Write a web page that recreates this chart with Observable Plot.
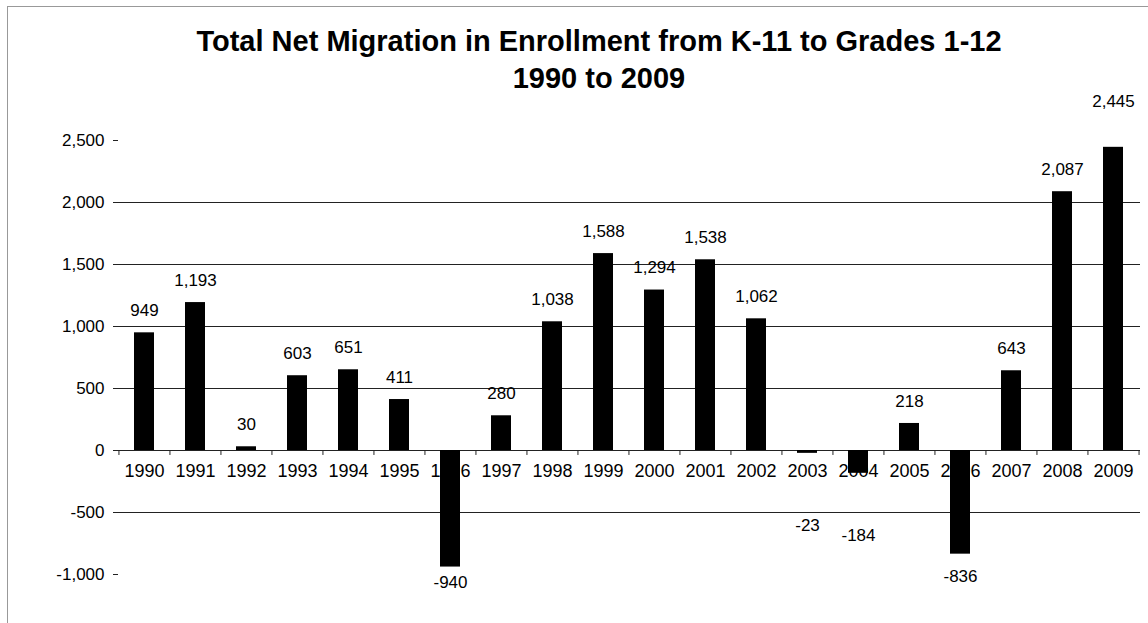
<!DOCTYPE html>
<html>
<head>
<meta charset="utf-8">
<script src="https://cdn.jsdelivr.net/npm/d3@7"></script>
<script src="https://cdn.jsdelivr.net/npm/@observablehq/plot@0.6"></script>
<style>
  html, body { margin: 0; padding: 0; background: #fff; }
  #wrap { position: relative; width: 1148px; height: 623px; overflow: hidden; font-family: "Liberation Sans", Arial, sans-serif; }
  #frame { position: absolute; left: 7px; top: 6px; width: 1160px; height: 700px; border-left: 1px solid #999; border-top: 1px solid #999; }
  #title { position: absolute; left: 0; width: 1198px; top: 23px; text-align: center; font-weight: bold; font-size: 29px; line-height: 37px; color: #000; }
  #chart { position: absolute; left: 0; top: 80px; }
</style>
</head>
<body>
<div id="wrap">
  <div id="frame"></div>
  <div id="title">Total Net Migration in Enrollment from K-11 to Grades 1-12<br>1990 to 2009</div>
  <div id="chart"></div>
</div>
<script>
const years = ["1990","1991","1992","1993","1994","1995","1996","1997","1998","1999",
               "2000","2001","2002","2003","2004","2005","2006","2007","2008","2009"];
const values = [949, 1193, 30, 603, 651, 411, -940, 280, 1038, 1588,
                1294, 1538, 1062, -23, -184, 218, -836, 643, 2087, 2445];
const yTicks = [-1000, -500, 0, 500, 1000, 1500, 2000, 2500];
const gridValues = [-500, 500, 1000, 1500, 2000];

const data = years.map((year, i) => ({year, value: values[i]}));
const fmt = v => d3.format(",")(v).replace("\u2212", "-");

const W = 1148, ML = 118, MR = 8;
const halfStep = (W - ML - MR) / years.length / 2;
const font = "Liberation Sans, Arial, sans-serif";

const chart = Plot.plot({
  width: W,
  height: 543,
  marginTop: 60,
  marginBottom: 49,
  marginLeft: ML,
  marginRight: MR,
  style: {fontFamily: font, fontSize: "17px", color: "#000", background: "transparent", overflow: "visible"},
  x: {type: "band", domain: years, paddingInner: 0.6, paddingOuter: 0.3, axis: null},
  y: {domain: [-1000, 2500], axis: null},
  marks: [
    Plot.ruleY(gridValues, {stroke: "#222", strokeWidth: 1, insetLeft: -5}),
    Plot.ruleY([0], {stroke: "#222", strokeWidth: 1.2, insetLeft: -5}),
    Plot.ruleX(years, {x: d => d, y1: () => 0, y2: () => -40, dx: -halfStep, stroke: "#222"}),
    Plot.ruleX(years.slice(-1), {x: d => d, y1: () => 0, y2: () => -40, dx: halfStep, stroke: "#222"}),
    Plot.axisY({ticks: yTicks, tickFormat: fmt, tickSize: 5, tickPadding: 9, fontSize: 17, label: null, stroke: "#222"}),
    Plot.text(data, {x: "year", y: () => 0, text: "year", dy: 21, fontSize: 18, fill: "#000"}),
    Plot.barY(data, {x: "year", y: "value", fill: "#000"}),
    Plot.text(data.filter(d => d.value >= 0 && d.value < 2400), {x: "year", y: "value", text: d => fmt(d.value), dy: -22, fontSize: 17, fill: "#000"}),
    Plot.text(data.filter(d => d.value >= 2400), {x: "year", y: "value", text: d => fmt(d.value), dy: -46, fontSize: 17, fill: "#000"}),
    Plot.text(data.filter(d => d.value < 0), {x: "year", y: d => d.value / 2, text: d => fmt(d.value), dy: 74, fontSize: 17, fill: "#000"})
  ]
});
document.getElementById("chart").appendChild(chart);
</script>
</body>
</html>
